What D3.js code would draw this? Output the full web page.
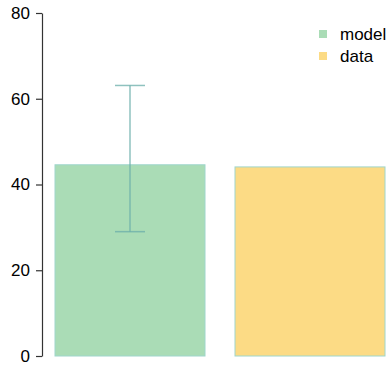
<!DOCTYPE html>
<html><head><meta charset="utf-8">
<script src="https://cdn.jsdelivr.net/npm/d3@7"></script>
<style>body{margin:0;background:#fff}svg{display:block}</style>
</head><body>
<svg id="c" width="388" height="365"></svg>
<script>
const categories = ["model", "data"];
const values = [44.6, 44.1];
const errLow = [29, null];
const errHigh = [63.1, null];
const yTicks = [0, 20, 40, 60, 80];
const colors = ["#aadcb6", "#fcdb85"];

const svg = d3.select("#c");
const y = d3.scaleLinear().domain([0, 80]).range([356, 13]);
const x = d3.scaleBand().domain(categories).range([55, 385]).paddingInner(1/6).paddingOuter(0);

const yAxis = svg.append("g").attr("transform", "translate(42,0)")
  .call(d3.axisLeft(y).tickValues(yTicks).tickSize(6).tickPadding(6).tickSizeOuter(0));
yAxis.select(".domain").attr("stroke", "#333").attr("stroke-width", 1.2);
yAxis.selectAll(".tick line").attr("stroke", "#333").attr("stroke-width", 1.2);
yAxis.selectAll(".tick text").attr("font-family", "Liberation Sans, Arial, sans-serif")
  .attr("font-size", 17).attr("fill", "#000");

svg.append("g").selectAll("rect").data(categories).join("rect")
  .attr("x", d => x(d)).attr("width", x.bandwidth())
  .attr("y", (d, i) => y(values[i])).attr("height", (d, i) => y(0) - y(values[i]))
  .attr("fill", (d, i) => colors[i])
  .attr("stroke", "#9fd6cc").attr("stroke-width", 1);

const eg = svg.append("g").attr("stroke", "#6aaeaa").attr("stroke-opacity", 0.75).attr("stroke-width", 1.5);
categories.forEach((c, i) => {
  if (errLow[i] == null) return;
  const cx = x(c) + x.bandwidth() / 2;
  eg.append("line").attr("x1", cx).attr("x2", cx).attr("y1", y(errLow[i])).attr("y2", y(errHigh[i]));
  eg.append("line").attr("x1", cx - 15).attr("x2", cx + 15).attr("y1", y(errLow[i])).attr("y2", y(errLow[i]));
  eg.append("line").attr("x1", cx - 15).attr("x2", cx + 15).attr("y1", y(errHigh[i])).attr("y2", y(errHigh[i]));
});

const lg = svg.append("g").attr("transform", "translate(319,30)");
categories.forEach((c, i) => {
  const g = lg.append("g").attr("transform", `translate(0,${i * 22})`);
  g.append("rect").attr("width", 8).attr("height", 8).attr("fill", colors[i]);
  g.append("text").attr("x", 21).attr("y", 4).attr("dy", "0.35em")
    .attr("font-family", "Liberation Sans, Arial, sans-serif").attr("font-size", 17)
    .attr("fill", "#000").text(c);
});
</script>
</body></html>
